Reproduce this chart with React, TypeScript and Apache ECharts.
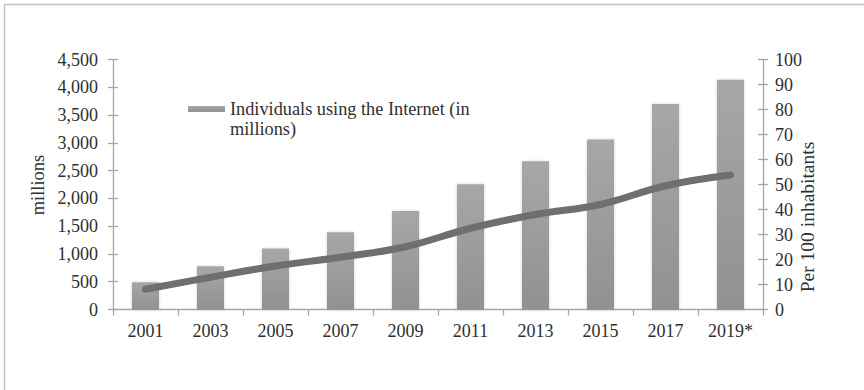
import React, { useEffect, useRef } from "react";
import * as echarts from "echarts";

const years = ["2001", "2003", "2005", "2007", "2009", "2011", "2013", "2015", "2017", "2019*"];
const internetUsers = [490, 780, 1100, 1390, 1775, 2255, 2670, 3060, 3700, 4135];
const per100 = [8.1, 12.9, 17.4, 20.9, 25.1, 32.5, 38.0, 42.0, 49.5, 53.8];
const leftTicks = { min: 0, max: 4500, interval: 500 };
const rightTicks = { min: 0, max: 100, interval: 10 };
const barName = "Individuals using the Internet (in millions)";
const leftAxisName = "millions";
const rightAxisName = "Per 100 inhabitants";

const FONT = "'Liberation Serif', 'Times New Roman', serif";
const TEXT = "#2f2f2f";
const AXIS = "#a6a6a6";

export default function App() {
  const ref = useRef<HTMLDivElement>(null);
  useEffect(() => {
    if (!ref.current) return;
    const chart = echarts.init(ref.current, null, { renderer: "svg" });
    const axisCommon = {
      axisLine: { show: true, lineStyle: { color: AXIS, width: 1.3 } },
      splitLine: { show: false },
    };
    chart.setOption({
      animation: false,
      backgroundColor: "#ffffff",
      textStyle: { fontFamily: FONT },
      grid: { left: 113, right: 101, top: 59.5, bottom: 80.5, containLabel: false },
      legend: {
        data: [barName],
        left: 183,
        top: 74,
        icon: "rect",
        itemWidth: 37,
        itemHeight: 6,
        itemGap: 5,
        formatter: () => " \nIndividuals using the Internet (in\nmillions)",
        textStyle: {
          fontFamily: FONT,
          fontSize: 18.3,
          color: TEXT,
          lineHeight: 20,
        },
      },
      xAxis: {
        type: "category",
        data: years,
        ...axisCommon,
        axisTick: { show: true, alignWithLabel: false, length: 6, lineStyle: { color: AXIS, width: 1.3 } },
        axisLabel: { fontFamily: FONT, fontSize: 18, color: TEXT, margin: 12 },
      },
      yAxis: [
        {
          type: "value",
          position: "left",
          ...leftTicks,
          ...axisCommon,
          axisTick: { show: true, length: 5, lineStyle: { color: AXIS, width: 1.3 } },
          axisLabel: {
            fontFamily: FONT,
            fontSize: 18,
            color: TEXT,
            margin: 15,
            formatter: (v: number) => v.toLocaleString("en-US"),
          },
        },
        {
          type: "value",
          position: "right",
          ...rightTicks,
          ...axisCommon,
          axisTick: { show: true, length: 5, lineStyle: { color: AXIS, width: 1.3 } },
          axisLabel: { fontFamily: FONT, fontSize: 18, color: TEXT, margin: 12 },
        },
        {
          type: "value",
          position: "left",
          ...leftTicks,
          axisLine: { show: false },
          splitLine: { show: false },
          axisLabel: { show: false },
          axisTick: { show: true, inside: true, length: 5, lineStyle: { color: AXIS, width: 1.3 } },
        },
        {
          type: "value",
          position: "right",
          ...rightTicks,
          axisLine: { show: false },
          splitLine: { show: false },
          axisLabel: { show: false },
          axisTick: { show: true, inside: true, length: 5, lineStyle: { color: AXIS, width: 1.3 } },
        },
      ],
      series: [
        {
          name: barName,
          type: "bar",
          yAxisIndex: 0,
          data: internetUsers,
          barWidth: 27,
          itemStyle: {
            color: new echarts.graphic.LinearGradient(0, 0, 0, 1, [
              { offset: 0, color: "#a7a7a9" },
              { offset: 1, color: "#919193" },
            ]),
            shadowBlur: 3,
            shadowColor: "rgba(0,0,0,0.18)",
          },
        },
        {
          name: "Per 100 inhabitants",
          type: "line",
          yAxisIndex: 1,
          data: per100,
          smooth: 0.4,
          showSymbol: false,
          symbol: "none",
          lineStyle: { color: "#6f6f71", width: 7, cap: "round", join: "round" },
        },
      ],
      graphic: [
        {
          type: "rect",
          shape: { x: 4.5, y: 4.5, width: 900, height: 420 },
          style: { fill: "none", stroke: "#c4c4c4", lineWidth: 1.5 },
          silent: true,
        },
        {
          type: "text",
          x: 38,
          y: 185,
          rotation: Math.PI / 2,
          style: {
            text: leftAxisName,
            font: `18.5px ${FONT}`,
            fill: TEXT,
            align: "center",
            verticalAlign: "middle",
          },
        },
        {
          type: "text",
          x: 807,
          y: 217,
          rotation: Math.PI / 2,
          style: {
            text: rightAxisName,
            font: `19.5px ${FONT}`,
            fill: TEXT,
            align: "center",
            verticalAlign: "middle",
          },
        },
      ],
    });
    return () => chart.dispose();
  }, []);
  return (
    <div
      ref={ref}
      style={{ position: "fixed", left: 0, top: 0, width: 864, height: 390 }}
    />
  );
}
